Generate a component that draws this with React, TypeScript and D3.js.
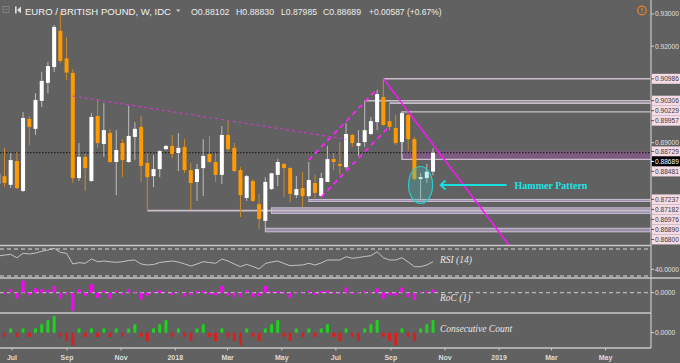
import * as d3 from 'd3';

// weekly EUR/GBP bars, first bar = week of 12 Jun 2017 (drawn mid-week)
const firstBar = new Date(2017, 5, 15, 12);

const opens = [
  0.8772, 0.8796, 0.8769, 0.8843, 0.875, 0.8974, 0.8943, 0.903, 0.9086, 0.9135,
  0.9248, 0.9162, 0.9117, 0.879, 0.8856, 0.8781, 0.8983, 0.8896, 0.893, 0.884,
  0.8899, 0.884, 0.8918, 0.8949, 0.8837, 0.8796, 0.8818, 0.888, 0.889, 0.8868,
  0.8887, 0.8815, 0.8778, 0.8821, 0.8865, 0.884, 0.88, 0.8924, 0.8884, 0.8815,
  0.8728, 0.8781, 0.8709, 0.8657, 0.8756, 0.88, 0.8834, 0.8821, 0.8737, 0.8759,
  0.8734, 0.8775, 0.8734, 0.8778, 0.8849, 0.8834, 0.8824, 0.8924, 0.889, 0.8902,
  0.8927, 0.8964, 0.9042, 0.8967, 0.8946, 0.8902, 0.8986, 0.8911, 0.8787, 0.879, 0.88102,
];
const highs = [
  0.8821, 0.8884, 0.8868, 0.8871, 0.8995, 0.8983, 0.9054, 0.912, 0.9151, 0.9266,
  0.9306, 0.9228, 0.9129, 0.8899, 0.8865, 0.8992, 0.9036, 0.9023, 0.8943, 0.8939,
  0.8911, 0.9014, 0.8964, 0.8983, 0.8868, 0.8862, 0.8877, 0.8893, 0.8924, 0.893,
  0.8911, 0.8837, 0.8834, 0.8911, 0.8921, 0.8868, 0.8952, 0.897, 0.8899, 0.8824,
  0.88, 0.8787, 0.8741, 0.8793, 0.8806, 0.8849, 0.8837, 0.8824, 0.8796, 0.8809,
  0.884, 0.88, 0.8806, 0.889, 0.8868, 0.8902, 0.8961, 0.8927, 0.8939, 0.903,
  0.898, 0.9064, 0.9099, 0.9023, 0.8986, 0.8996, 0.8995, 0.8918, 0.8806, 0.8834, 0.8883,
];
const lows = [
  0.8762, 0.8762, 0.8759, 0.8756, 0.8747, 0.8893, 0.8924, 0.9011, 0.9054, 0.912,
  0.9148, 0.9095, 0.8775, 0.8781, 0.875, 0.8778, 0.8884, 0.8856, 0.8837, 0.8737,
  0.8793, 0.8838, 0.8846, 0.8778, 0.8691, 0.8762, 0.8793, 0.8877, 0.8852, 0.8812,
  0.8806, 0.8691, 0.8719, 0.8734, 0.8837, 0.8778, 0.8772, 0.8871, 0.8809, 0.8669,
  0.8719, 0.8716, 0.8632, 0.8635, 0.8753, 0.8765, 0.8731, 0.8716, 0.8728, 0.87,
  0.8728, 0.8728, 0.8731, 0.8778, 0.8815, 0.88, 0.8818, 0.8887, 0.8859, 0.8887,
  0.8924, 0.8939, 0.8953, 0.8939, 0.8893, 0.8893, 0.8874, 0.8781, 0.8722, 0.8775, 0.87985,
];
const closes = [
  0.8803, 0.8775, 0.8846, 0.8759, 0.8977, 0.8949, 0.9033, 0.9092, 0.9138, 0.926,
  0.9154, 0.9118, 0.879, 0.8856, 0.8821, 0.898, 0.8899, 0.8939, 0.884, 0.8877,
  0.8846, 0.8921, 0.8943, 0.8828, 0.8793, 0.8818, 0.8874, 0.889, 0.8865, 0.8884,
  0.8815, 0.8775, 0.8818, 0.8859, 0.884, 0.88, 0.8924, 0.888, 0.8812, 0.8737,
  0.8796, 0.8719, 0.8663, 0.8778, 0.8805, 0.884, 0.8821, 0.8741, 0.8756, 0.8734,
  0.8784, 0.8744, 0.879, 0.8849, 0.884, 0.8828, 0.8927, 0.8899, 0.8899, 0.8939,
  0.8967, 0.9051, 0.8955, 0.8949, 0.8899, 0.8992, 0.8911, 0.8787, 0.8793, 0.881, 0.88689,
];

const rsi = [
  59.6, 61, 62, 57, 63.6, 62.6, 64, 66.6, 68.5, 71,
  65, 63.6, 47.8, 49.7, 48.8, 55.2, 51.2, 52.2, 51, 50.3,
  51.2, 53, 53.7, 47.8, 46.3, 47, 50, 51.2, 52.2, 50.7,
  47.8, 44.8, 47.8, 51.2, 50, 48.8, 55.2, 52.2, 47.8, 43.8,
  47.3, 44, 40.4, 48.5, 50.7, 52.2, 48.5, 45.3, 45.9, 46.3,
  48.8, 46.3, 49.3, 53.7, 53.7, 53.7, 58.6, 56.2, 57.4, 58.9,
  60.1, 66, 57.1, 53.7, 53.7, 57.1, 50.7, 43.8, 43.8, 46.3, 51.2,
];
const roc = [
  0.3, -0.3, 0.8, -1.2, 2.5, -0.5, 0.9, 0.7, 0.55, 1.4,
  -1.2, -0.5, -3.8, 0.75, -0.6, 1.75, -1.05, 0.4, -1.2, 0.4,
  -0.5, 0.75, 0.2, -1.4, -0.6, 0.2, 0.55, 0.15, -0.5, 0.15,
  -0.9, -0.5, 0.4, 0.4, -0.35, -0.5, 1.4, -0.6, -0.9, -0.9,
  0.55, -0.9, -0.7, 1.4, 0.2, 0.35, -0.2, -1.05, 0.15, -0.2,
  0.4, -0.5, 0.35, 0.4, -0.1, -0.15, 1.1, -0.35, 0.1, 0.35,
  0.2, 0.9, -1.2, -0.5, -0.6, 1.05, -0.9, -1.5, 0.1, 0.35, 0.67,
];
const counts = [
  1, -1, 1, -1, 1, -1, 1, 2, 3, 4,
  -1, -2, -3, 1, -1, 1, -1, 1, -1, 1,
  -1, 1, 2, -1, -2, 1, 2, 3, -1, 1,
  -1, -2, 1, 2, -1, -2, 1, -1, -2, -3,
  1, -1, -2, 1, 2, 3, -1, -2, 1, -1,
  1, -1, 1, 2, -1, -2, 1, -1, -2, 1,
  2, 3, -1, -2, -3, 1, -1, -2, 1, 2, 3,
];

// right axis
const priceTicks = [0.93, 0.92, 0.89];
const levelLabels = [0.90986, 0.90306, 0.90229, 0.89957, 0.88729, 0.88481, 0.87237, 0.87182, 0.86976, 0.8689, 0.868];
const lastPrice = 0.88689;
const change = '+0.00587 (+0.67%)';

// drawn levels: [start bar, price]
const lineLevels: [number, number][] = [[62, 0.90986], [59, 0.90306], [63, 0.90229], [24, 0.8689]];
const zoneLevels: [number, number, number][] = [[50, 0.87237, 0.87182], [44, 0.86976, 0.868], [43, 0.8634, 0.8623]];
const boxLevel: [number, number, number] = [65, 0.89957, 0.88481];
const bandLevel: [number, number, number] = [65, 0.88729, 0.88481];

// trendlines: [bar, price] -> [bar, price]
const dottedTrend = [[12, 0.9045], [56, 0.8911]];
const channelUpper = [[50, 0.8846], [61, 0.9067]];
const channelLower = [[52, 0.8731], [63, 0.8952]];
const mainTrend = [[62, 0.9099], [82.2, 0.8582]];
const hammerBar = 68;
const hammerPrice = 0.87685;

export default function App() {
  const W = 680;
  const H = 363;
  const right = 651;
  const mainBottom = 245.5;
  const rsiBottom = 278;
  const rocBottom = 313;
  const cntBottom = 348;

  const x = d3.scaleTime().domain([new Date(2017, 6, 1), new Date(2018, 10, 1)]).range([12, 445]);
  const barX = (i: number) => x(d3.timeHour.offset(firstBar, Math.round(i * 168)));
  const y = d3.scaleLinear().domain([0.93, 0.89]).range([14, 142.7]);
  const yRsi = d3.scaleLinear().domain([30, 70]).range([276, 249]);
  const yRoc = d3.scaleLinear().domain([0, 1]).range([292.7, 287.9]);
  const yCnt = d3.scaleLinear().domain([0, 1]).range([332.7, 328.5]);

  const months = d3.timeMonth.range(new Date(2017, 6, 1), new Date(2019, 5, 2), 2);
  const fmtMonth = (d: Date) => (d.getMonth() === 0 ? d3.timeFormat('%Y')(d) : d3.timeFormat('%b')(d));

  // stacked price labels like the platform does
  const labelList = [...levelLabels, lastPrice].sort((a, b) => b - a);
  let prev = -Infinity;
  const placed = labelList.map((p) => {
    const ly = Math.max(y(p), prev + 10);
    prev = ly;
    return { p, ly };
  });

  const rsiLine = d3.line<number>().x((_, i) => barX(i)).y((v) => yRsi(v))(rsi) || '';
  const seg = (pts: number[][]) => `M${barX(pts[0][0])},${y(pts[0][1])}L${barX(pts[1][0])},${y(pts[1][1])}`;

  const sans = 'Liberation Sans, Arial, sans-serif';
  const serif = 'Liberation Serif, Times New Roman, serif';
  const axisFont = 6.6;
  const hx = barX(hammerBar);
  const hy = y(hammerPrice);
  const last = opens.length - 1;

  const header: [string, number, number][] = [
    ['O' + opens[last].toFixed(5), 191, 38.5],
    ['H' + highs[last].toFixed(5), 236, 38],
    ['L' + lows[last].toFixed(5), 281, 36],
    ['C' + closes[last].toFixed(5), 323, 38],
    [change, 369, 72.5],
  ];

  return (
    <svg width={W} height={H} style={{ position: 'absolute', left: 0, top: 0, display: 'block' }}>
      <defs>
        <clipPath id="mainClip">
          <rect x={0} y={0} width={right} height={mainBottom} />
        </clipPath>
        <clipPath id="plotClip">
          <rect x={0} y={0} width={right} height={H} />
        </clipPath>
      </defs>
      <rect width={W} height={H} fill="#616161" />

      <g clipPath="url(#mainClip)">
        {/* zones and levels */}
        {zoneLevels.map(([b, t, bt], i) => (
          <rect key={'z' + i} x={barX(b)} y={y(t)} width={right - barX(b)} height={Math.max(2, y(bt) - y(t))}
            fill="#9a8fa6" stroke="#cbbfd4" strokeWidth={1} />
        ))}
        {lineLevels.map(([b, p], i) => (
          <line key={'l' + i} x1={barX(b)} x2={right} y1={y(p)} y2={y(p)} stroke="#c9bdcc" strokeWidth={1.6} />
        ))}
        <rect x={barX(bandLevel[0])} y={y(bandLevel[1])} width={right - barX(bandLevel[0])}
          height={y(bandLevel[2]) - y(bandLevel[1])} fill="#7d5b7f" />
        <path d={`M${right},${y(boxLevel[1])}H${barX(boxLevel[0])}V${y(boxLevel[2])}H${right}`}
          fill="none" stroke="#c9bdcc" strokeWidth={1.4} />
        <line x1={0} x2={right} y1={y(lastPrice)} y2={y(lastPrice)} stroke="#111" strokeWidth={1} strokeDasharray="1.5,1.5" />

        {/* candles */}
        {opens.map((o, i) => {
          const c = closes[i];
          const up = c >= o;
          const cx = barX(i);
          const top = y(Math.max(o, c));
          const bot = y(Math.min(o, c));
          return (
            <g key={'c' + i}>
              <line x1={cx} x2={cx} y1={y(highs[i])} y2={y(lows[i])} stroke={up ? '#bdbdbd' : '#c98a2a'} strokeWidth={1} />
              <rect x={cx - 2} y={top} width={4} height={Math.max(1, bot - top)} fill={up ? '#ffffff' : '#ff9a00'} />
            </g>
          );
        })}

        {/* trendlines */}
        <path d={seg(dottedTrend)} stroke="#c43fc4" strokeWidth={1.2} strokeDasharray="3,3" fill="none" />
        <path d={seg(channelUpper)} stroke="#ff22ff" strokeWidth={1.8} strokeDasharray="5,4" fill="none" />
        <path d={seg(channelLower)} stroke="#ff22ff" strokeWidth={1.8} strokeDasharray="5,4" fill="none" />
        <path d={seg(mainTrend)} stroke="#ff10ff" strokeWidth={1.5} fill="none" />

        {/* hammer annotation */}
        <ellipse cx={hx} cy={hy} rx={12} ry={18.5} fill="rgba(60,190,190,0.28)" stroke="#2fc9c9" strokeWidth={1.2} />
        <line x1={hx + 20} x2={hx + 86} y1={hy} y2={hy} stroke="#19e0e0" strokeWidth={1.8} />
        <path d={`M${hx + 25},${hy - 4.5}L${hx + 20},${hy}L${hx + 25},${hy + 4.5}`} stroke="#19e0e0" strokeWidth={1.8} fill="none" />
      </g>
      <text x={hx + 94} y={hy + 3.5} fill="#19e6e6" fontFamily={serif} fontWeight="bold" fontSize={10}>Hammer Pattern</text>

      {/* RSI pane */}
      <line x1={0} x2={right} y1={249} y2={249} stroke="#dcdcdc" strokeDasharray="4,3" />
      <line x1={0} x2={right} y1={276} y2={276} stroke="#dcdcdc" strokeDasharray="4,3" />
      <g clipPath="url(#plotClip)">
        <path d={rsiLine} fill="none" stroke="#c4c4c4" strokeWidth={1} />
      </g>
      <text x={440} y={262.5} fill="#e6e6e6" fontFamily={serif} fontStyle="italic" fontSize={9.5}>RSI (14)</text>

      {/* RoC pane */}
      <line x1={0} x2={right} y1={yRoc(0)} y2={yRoc(0)} stroke="#cfcfcf" strokeDasharray="4,3" />
      <g clipPath="url(#plotClip)">
        {roc.map((v, i) => (
          <rect key={'r' + i} x={barX(i) - 1.5} width={3} y={Math.min(yRoc(v), yRoc(0))}
            height={Math.max(0.8, Math.abs(yRoc(v) - yRoc(0)))} fill="#ff00ff" />
        ))}
      </g>
      <text x={440} y={301} fill="#e6e6e6" fontFamily={serif} fontStyle="italic" fontSize={9.5}>RoC (1)</text>

      {/* consecutive count pane */}
      <g clipPath="url(#plotClip)">
        {counts.map((v, i) => (
          <rect key={'k' + i} x={barX(i) - 1.5} width={3} y={Math.min(yCnt(v), yCnt(0))}
            height={Math.abs(yCnt(v) - yCnt(0))} fill={v > 0 ? '#1ed21e' : '#dc1e1e'} />
        ))}
      </g>
      <text x={440} y={331.5} fill="#e6e6e6" fontFamily={serif} fontStyle="italic" fontSize={9.5}>Consecutive Count</text>

      {/* pane separators */}
      {[mainBottom, rocBottom, cntBottom].map((v) => (
        <line key={'s' + v} x1={0} x2={right} y1={v} y2={v} stroke="#c8c8c8" strokeWidth={1.4} />
      ))}
      <line x1={0} x2={W} y1={rsiBottom} y2={rsiBottom} stroke="#c8c8c8" strokeWidth={1.4} />
      <line x1={right} x2={right} y1={0} y2={cntBottom} stroke="#c8c8c8" strokeWidth={1.2} />

      {/* time axis */}
      {months.map((d) => (
        <g key={d.toISOString()}>
          <line x1={x(d)} x2={x(d)} y1={cntBottom} y2={cntBottom + 2.5} stroke="#c8c8c8" />
          <text x={x(d)} y={359.5} textAnchor="middle" fill="#dcdcdc" fontFamily={sans} fontWeight="bold" fontSize={7}>
            {fmtMonth(d)}
          </text>
        </g>
      ))}

      {/* price axis */}
      {priceTicks.map((p) => (
        <g key={'t' + p}>
          <line x1={right} x2={right + 3} y1={y(p)} y2={y(p)} stroke="#d0d0d0" />
          <text x={655} y={y(p) + 2.4} fill="#e0e0e0" fontFamily={sans} fontSize={axisFont}>{p.toFixed(5)}</text>
        </g>
      ))}
      {placed.map(({ p, ly }) => {
        const cur = p === lastPrice;
        return (
          <g key={'b' + p}>
            <rect x={right + 1} y={ly - 5} width={W - right - 1} height={10} fill={cur ? '#000000' : '#f5dbe5'} />
            <line x1={right} x2={right + 3} y1={ly} y2={ly} stroke={cur ? '#ffffff' : '#555'} />
            <text x={655} y={ly + 2.4} fill={cur ? '#ffffff' : '#3a3a3a'} fontFamily={sans} fontSize={axisFont}>{p.toFixed(5)}</text>
          </g>
        );
      })}
      {[40].map((v) => (
        <g key={'rs' + v}>
          <line x1={right} x2={right + 3} y1={yRsi(v)} y2={yRsi(v)} stroke="#d0d0d0" />
          <text x={655} y={yRsi(v) + 2.4} fill="#e0e0e0" fontFamily={sans} fontSize={axisFont}>{v.toFixed(4)}</text>
        </g>
      ))}
      {[yRoc(0), yCnt(0)].map((v) => (
        <g key={'z' + v}>
          <line x1={right} x2={right + 3} y1={v} y2={v} stroke="#d0d0d0" />
          <text x={655} y={v + 2.4} fill="#e0e0e0" fontFamily={sans} fontSize={axisFont}>0.0000</text>
        </g>
      ))}

      {/* header */}
      <rect x={3} y={6.5} width={6} height={6} fill="none" stroke="#8a8a8a" strokeWidth={0.8} />
      <line x1={4.5} x2={7.5} y1={9.5} y2={9.5} stroke="#8a8a8a" strokeWidth={0.8} />
      <rect x={15} y={6.5} width={1.6} height={7} fill="#dedede" />
      <path d="M17,10L21,6.5V13.5Z" fill="#dedede" />
      <text x={25} y={14.8} fill="#f2f2f2" fontFamily={sans} fontSize={9.8} textLength={146} lengthAdjust="spacingAndGlyphs">
        EURO / BRITISH POUND, W, IDC
      </text>
      <path d="M176,9.5H180.5L178.25,12Z" fill="#cfcfcf" />
      {header.map(([t, px, len]) => (
        <text key={t} x={px} y={14.8} fill="#ececec" fontFamily={sans} fontSize={9.6} textLength={len} lengthAdjust="spacingAndGlyphs">{t}</text>
      ))}
      <circle cx={642} cy={10.5} r={4.3} fill="none" stroke="#e8832a" strokeWidth={1.2} />
      <line x1={642} x2={642} y1={7.8} y2={11} stroke="#e8832a" strokeWidth={1.2} />
      <circle cx={642} cy={12.6} r={0.7} fill="#e8832a" />
    </svg>
  );
}
